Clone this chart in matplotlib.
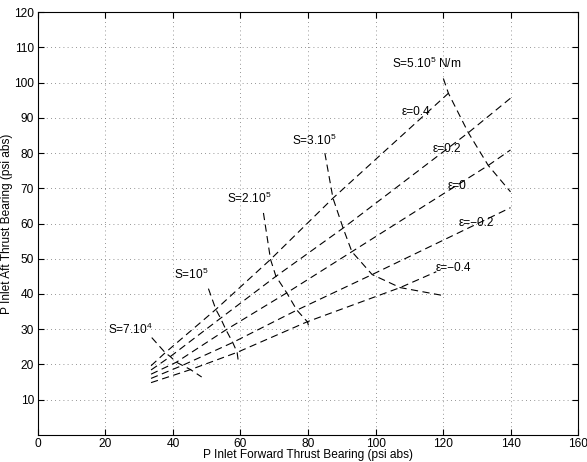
import matplotlib.pyplot as plt

plt.rcParams['font.family'] = ['Liberation Sans', 'DejaVu Sans']
plt.rcParams['mathtext.fontset'] = 'custom'
plt.rcParams['mathtext.rm'] = 'Liberation Sans'
plt.rcParams['mathtext.it'] = 'Liberation Sans:italic'
plt.rcParams['font.size'] = 8.6

# eccentricity lines, from eps=0.4 down to eps=-0.4
eps_labels = ['\u03b5=0.4', '\u03b5=0.2', '\u03b5=0', '\u03b5=\u22120.2', '\u03b5=\u22120.4']
eps_start_x = [33.5, 33.5, 33.5, 33.5, 33.5]
eps_start_y = [19.6, 18.4, 17.2, 16.0, 14.8]
eps_end_x = [None, 140.0, 140.0, 140.0, 118.0]
eps_end_y = [None, 95.6, 80.9, 64.5, 46.3]
eps_label_x = [112.0, 121.3, 124.1, 129.8, 123.1]
eps_label_y = [91.8, 81.3, 70.6, 60.2, 47.4]

# stiffness curves: where each one crosses the eps lines (eps=0.4 first)
s_labels = ['S=7.10$^4$', 'S=10$^5$', 'S=2.10$^5$', 'S=3.10$^5$', 'S=5.10$^5$ N/m']
s7e4_x = [37.7, 39.2, 41.0, 42.8, 45.2]
s7e4_y = [23.3, 22.2, 20.6, 19.7, 18.5]
s1e5_x = [52.7, 54.1, 55.7, 57.7, 59.0]
s1e5_y = [35.6, 33.1, 29.8, 26.2, 23.4]
s2e5_x = [68.9, 70.5, 73.7, 76.7, 79.8]
s2e5_y = [49.8, 45.0, 40.3, 35.4, 32.1]
s3e5_x = [87.4, 90.4, 93.0, 99.0, 107.3]
s3e5_y = [67.2, 58.7, 52.0, 45.5, 41.8]
s5e5_x = [121.6, 127.5, 133.4]
s5e5_y = [97.0, 85.8, 76.5]
# first point (under the label) and last point of each S curve
s_top_x = [33.7, 50.5, 66.8, 85.0, 120.1]
s_top_y = [27.6, 41.5, 63.0, 80.0, 101.2]
s_end_x = [48.5, 59.3, 80.5, 119.7, 140.0]
s_end_y = [16.4, 21.2, 30.0, 39.6, 69.0]
s_label_x = [27.3, 45.3, 62.5, 81.8, 115.3]
s_label_y = [29.8, 45.6, 67.0, 83.6, 105.6]

cross_x = [s7e4_x, s1e5_x, s2e5_x, s3e5_x, s5e5_x]
cross_y = [s7e4_y, s1e5_y, s2e5_y, s3e5_y, s5e5_y]

dash = (0, (6.5, 4))

fig = plt.figure(figsize=(5.87, 4.62), dpi=100)
ax = fig.add_axes([0.0647, 0.059, 0.92, 0.9144])

for j in range(len(eps_labels)):
    xs = [eps_start_x[j]]
    ys = [eps_start_y[j]]
    for cx, cy in zip(cross_x, cross_y):
        if j < len(cx):
            xs.append(cx[j])
            ys.append(cy[j])
    if eps_end_x[j] is not None:
        xs.append(eps_end_x[j])
        ys.append(eps_end_y[j])
    ax.plot(xs, ys, color='black', lw=0.8, linestyle=dash)
    ax.text(eps_label_x[j], eps_label_y[j], eps_labels[j], ha='center', va='center')

for i in range(len(s_labels)):
    xs = [s_top_x[i]] + cross_x[i] + [s_end_x[i]]
    ys = [s_top_y[i]] + cross_y[i] + [s_end_y[i]]
    ax.plot(xs, ys, color='black', lw=0.8, linestyle=dash)
    ax.text(s_label_x[i], s_label_y[i], s_labels[i], ha='center', va='center')

ax.set_xlim(0, 160)
ax.set_ylim(0, 120)
ax.set_xticks(range(0, 161, 20))
ax.set_yticks(range(10, 121, 10))
ax.grid(True, color='0.45', lw=0.6, linestyle=(0, (1, 4)))
ax.tick_params(direction='in', top=True, right=True, length=4, width=0.8, pad=3)
ax.tick_params(axis='x', pad=2.5)
for sp in ax.spines.values():
    sp.set_linewidth(0.8)

ax.set_xlabel('P Inlet Forward Thrust Bearing (psi abs)')
ax.set_ylabel('P Inlet Aft Thrust Bearing (psi abs)')
ax.xaxis.set_label_coords(0.5, -0.034)
ax.yaxis.set_label_coords(-0.046, 0.5)

fig.savefig('out.png', dpi=100)
